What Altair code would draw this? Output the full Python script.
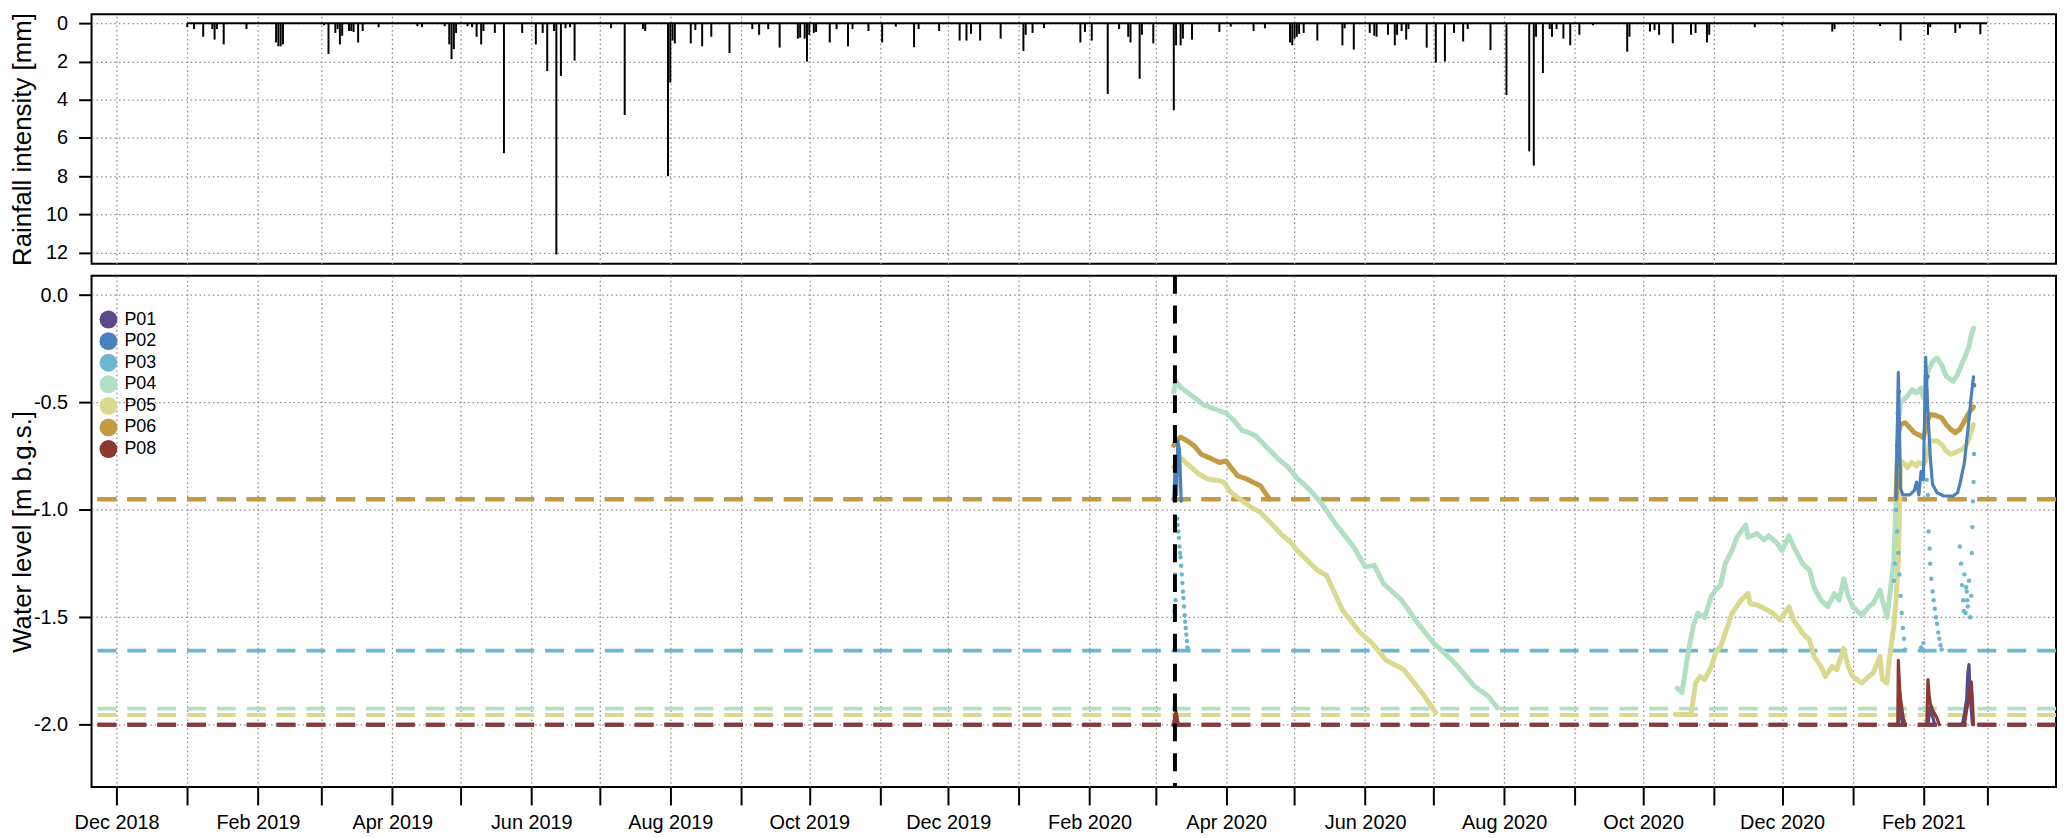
import altair as alt
import pandas as pd

# ---------------- rainfall (date, mm) ----------------
rain_events = [
    ("2019-01-01", 0.2), ("2019-01-04", 0.3), ("2019-01-08", 0.7), ("2019-01-12", 0.3), ("2019-01-13", 0.85),
    ("2019-01-14", 0.3), ("2019-01-17", 1.1), ("2019-01-27", 0.3),
    ("2019-02-09", 1.0), ("2019-02-10", 1.2), ("2019-02-11", 1.2), ("2019-02-12", 1.1),
    ("2019-03-02", 0.1), ("2019-03-04", 1.6), ("2019-03-07", 0.5), ("2019-03-08", 0.3), ("2019-03-09", 1.1),
    ("2019-03-10", 0.65), ("2019-03-13", 0.4), ("2019-03-14", 0.4), ("2019-03-15", 0.45), ("2019-03-17", 1.0),
    ("2019-03-19", 0.4), ("2019-03-26", 0.2),
    ("2019-04-12", 0.15), ("2019-04-14", 0.2), ("2019-04-24", 0.15), ("2019-04-26", 1.1), ("2019-04-27", 1.87),
    ("2019-04-28", 1.35), ("2019-04-29", 0.5),
    ("2019-05-04", 0.15), ("2019-05-06", 0.2), ("2019-05-08", 0.7), ("2019-05-10", 1.1), ("2019-05-11", 0.4),
    ("2019-05-16", 0.5), ("2019-05-20", 6.8), ("2019-05-28", 0.5),
    ("2019-06-03", 1.1), ("2019-06-06", 0.5), ("2019-06-08", 2.5), ("2019-06-11", 0.4), ("2019-06-12", 12.1),
    ("2019-06-14", 2.75), ("2019-06-16", 0.25), ("2019-06-18", 0.2), ("2019-06-20", 1.95),
    ("2019-07-06", 0.25), ("2019-07-12", 4.8), ("2019-07-20", 0.3), ("2019-07-21", 0.4), ("2019-07-31", 8.0),
    ("2019-08-01", 3.1), ("2019-08-02", 0.9), ("2019-08-03", 1.05), ("2019-08-10", 1.05), ("2019-08-12", 0.35),
    ("2019-08-15", 1.2), ("2019-08-19", 0.7), ("2019-08-27", 1.55),
    ("2019-09-06", 0.3), ("2019-09-09", 0.6), ("2019-09-13", 0.3), ("2019-09-18", 1.27), ("2019-09-26", 0.8),
    ("2019-09-27", 0.75), ("2019-09-29", 0.8), ("2019-09-30", 2.0),
    ("2019-10-01", 0.6), ("2019-10-03", 0.5), ("2019-10-04", 0.45), ("2019-10-10", 1.0), ("2019-10-13", 0.3),
    ("2019-10-18", 1.2), ("2019-10-20", 0.3), ("2019-10-27", 0.4),
    ("2019-11-02", 1.0), ("2019-11-08", 0.17), ("2019-11-16", 1.25), ("2019-11-18", 0.3), ("2019-11-27", 0.4),
    ("2019-12-06", 0.9), ("2019-12-09", 0.9), ("2019-12-11", 0.55), ("2019-12-15", 0.9), ("2019-12-24", 0.8),
    ("2020-01-03", 1.45), ("2020-01-04", 0.6), ("2020-01-07", 0.5), ("2020-01-12", 0.25), ("2020-01-28", 1.0),
    ("2020-01-30", 0.45),
    ("2020-02-02", 0.9), ("2020-02-09", 3.7), ("2020-02-14", 0.3), ("2020-02-18", 0.7), ("2020-02-19", 1.0),
    ("2020-02-23", 2.9), ("2020-02-24", 0.6), ("2020-02-29", 1.05),
    ("2020-03-09", 4.55), ("2020-03-10", 1.15), ("2020-03-12", 1.15), ("2020-03-13", 0.8), ("2020-03-17", 0.85),
    ("2020-03-29", 0.45),
    ("2020-04-03", 0.17), ("2020-04-13", 0.4), ("2020-04-18", 0.26), ("2020-04-29", 1.0), ("2020-04-30", 1.15),
    ("2020-05-01", 0.8), ("2020-05-02", 0.7), ("2020-05-03", 0.55), ("2020-05-05", 0.5), ("2020-05-11", 0.9),
    ("2020-05-22", 1.15), ("2020-05-23", 0.26), ("2020-05-27", 1.37),
    ("2020-06-03", 0.5), ("2020-06-05", 0.65), ("2020-06-06", 0.7), ("2020-06-11", 0.6), ("2020-06-14", 1.15),
    ("2020-06-15", 0.6), ("2020-06-17", 0.4), ("2020-06-19", 0.85), ("2020-06-20", 0.3), ("2020-06-28", 1.27),
    ("2020-07-02", 2.05), ("2020-07-06", 2.0), ("2020-07-10", 0.5), ("2020-07-14", 0.95), ("2020-07-16", 0.3),
    ("2020-07-26", 1.4),
    ("2020-08-02", 3.75), ("2020-08-12", 6.7), ("2020-08-14", 7.45), ("2020-08-15", 0.7), ("2020-08-18", 2.6),
    ("2020-08-21", 0.3), ("2020-08-22", 0.7), ("2020-08-24", 0.3), ("2020-08-27", 0.8), ("2020-08-30", 1.15),
    ("2020-09-03", 0.6), ("2020-09-09", 0.1), ("2020-09-24", 1.48), ("2020-09-25", 0.7),
    ("2020-10-04", 0.43), ("2020-10-06", 0.35), ("2020-10-08", 0.6), ("2020-10-14", 1.04), ("2020-10-22", 0.6),
    ("2020-10-24", 0.5), ("2020-10-29", 1.0), ("2020-10-30", 0.6),
    ("2020-11-19", 0.2), ("2020-12-01", 0.1), ("2020-12-23", 0.43), ("2020-12-24", 0.3),
    ("2021-01-13", 0.14), ("2021-01-22", 0.9), ("2021-02-03", 0.6), ("2021-02-04", 0.2), ("2021-02-15", 0.5),
    ("2021-02-17", 0.26), ("2021-02-26", 0.57),
]
rain_record = [("2019-01-01", "2021-03-01")]

# ---------------- piezometers ----------------
series_names = ["P01", "P02", "P03", "P04", "P05", "P06", "P08"]
series_colors = ["#5b4a8b", "#4a80bb", "#6ab7cf", "#b1dfc4", "#d9d98f", "#c29b42", "#8a3a33"]
threshold_levels = [-2.0, -0.95, -1.655, -1.925, -1.955, -0.95, -2.0]
event_dates = ["2020-03-09 12:00"]

p04_a = [("2020-03-09", -0.45), ("2020-03-10", -0.40), ("2020-03-12", -0.43), ("2020-03-16", -0.46),
         ("2020-03-22", -0.51), ("2020-03-27", -0.53), ("2020-04-01", -0.55), ("2020-04-04", -0.58),
         ("2020-04-08", -0.63), ("2020-04-11", -0.64), ("2020-04-14", -0.656), ("2020-04-19", -0.71),
         ("2020-04-24", -0.764), ("2020-04-28", -0.80), ("2020-05-02", -0.85), ("2020-05-08", -0.91),
         ("2020-05-13", -0.972), ("2020-05-19", -1.065), ("2020-05-27", -1.173), ("2020-06-01", -1.265),
         ("2020-06-05", -1.258), ("2020-06-09", -1.343), ("2020-06-17", -1.42), ("2020-06-23", -1.512),
         ("2020-07-01", -1.62), ("2020-07-09", -1.698), ("2020-07-14", -1.759), ("2020-07-19", -1.821),
         ("2020-07-25", -1.867), ("2020-07-29", -1.921)]
p04_b = [("2020-10-16", -1.83), ("2020-10-18", -1.85), ("2020-10-21", -1.65), ("2020-10-23", -1.54),
         ("2020-10-25", -1.48), ("2020-10-28", -1.50), ("2020-10-31", -1.40), ("2020-11-02", -1.37),
         ("2020-11-04", -1.35), ("2020-11-06", -1.25), ("2020-11-09", -1.19), ("2020-11-11", -1.13),
         ("2020-11-15", -1.07), ("2020-11-16", -1.127), ("2020-11-20", -1.11), ("2020-11-23", -1.14),
         ("2020-11-25", -1.12), ("2020-11-29", -1.157), ("2020-12-01", -1.19), ("2020-12-04", -1.12),
         ("2020-12-06", -1.17), ("2020-12-10", -1.25), ("2020-12-13", -1.28), ("2020-12-15", -1.36),
         ("2020-12-18", -1.42), ("2020-12-21", -1.45), ("2020-12-24", -1.39), ("2020-12-26", -1.42),
         ("2020-12-28", -1.32), ("2020-12-30", -1.40), ("2021-01-01", -1.45), ("2021-01-05", -1.49),
         ("2021-01-08", -1.45), ("2021-01-10", -1.435), ("2021-01-13", -1.373), ("2021-01-14", -1.42),
         ("2021-01-16", -1.50), ("2021-01-17", -1.42), ("2021-01-19", -1.235), ("2021-01-20", -0.96),
         ("2021-01-21", -0.60), ("2021-01-22", -0.50), ("2021-01-25", -0.47), ("2021-01-27", -0.44),
         ("2021-01-29", -0.455), ("2021-01-31", -0.432), ("2021-02-01", -0.479), ("2021-02-03", -0.355),
         ("2021-02-05", -0.309), ("2021-02-07", -0.293), ("2021-02-09", -0.324), ("2021-02-11", -0.378),
         ("2021-02-14", -0.401), ("2021-02-16", -0.37), ("2021-02-18", -0.316), ("2021-02-19", -0.293),
         ("2021-02-21", -0.239), ("2021-02-22", -0.185), ("2021-02-23", -0.154)]
p05_a = [("2020-03-09", -0.80), ("2020-03-10", -0.795), ("2020-03-12", -0.756), ("2020-03-15", -0.787),
         ("2020-03-20", -0.833), ("2020-03-24", -0.856), ("2020-03-29", -0.864), ("2020-03-31", -0.872),
         ("2020-04-03", -0.918), ("2020-04-08", -0.957), ("2020-04-12", -0.988), ("2020-04-16", -1.011),
         ("2020-04-21", -1.065), ("2020-04-25", -1.111), ("2020-04-30", -1.158), ("2020-05-02", -1.188),
         ("2020-05-11", -1.281), ("2020-05-15", -1.304), ("2020-05-22", -1.466), ("2020-05-30", -1.574),
         ("2020-06-04", -1.62), ("2020-06-10", -1.698), ("2020-06-18", -1.744), ("2020-06-26", -1.852),
         ("2020-07-02", -1.944)]
p05_b = [("2020-10-15", -1.952), ("2020-10-22", -1.952), ("2020-10-23", -1.883), ("2020-10-24", -1.806),
         ("2020-10-26", -1.775), ("2020-10-28", -1.79), ("2020-10-31", -1.728), ("2020-11-02", -1.659),
         ("2020-11-04", -1.636), ("2020-11-07", -1.543), ("2020-11-09", -1.481), ("2020-11-12", -1.435),
         ("2020-11-13", -1.42), ("2020-11-16", -1.389), ("2020-11-17", -1.435), ("2020-11-20", -1.443),
         ("2020-11-23", -1.458), ("2020-11-27", -1.481), ("2020-11-30", -1.512), ("2020-12-02", -1.481),
         ("2020-12-04", -1.451), ("2020-12-06", -1.512), ("2020-12-10", -1.574), ("2020-12-13", -1.605),
         ("2020-12-15", -1.682), ("2020-12-18", -1.728), ("2020-12-20", -1.775), ("2020-12-23", -1.728),
         ("2020-12-25", -1.744), ("2020-12-28", -1.644), ("2020-12-30", -1.728), ("2021-01-01", -1.775),
         ("2021-01-05", -1.806), ("2021-01-08", -1.775), ("2021-01-10", -1.759), ("2021-01-13", -1.682),
         ("2021-01-14", -1.79), ("2021-01-16", -1.806), ("2021-01-17", -1.698), ("2021-01-19", -1.543),
         ("2021-01-20", -1.42), ("2021-01-21", -1.235), ("2021-01-22", -0.772), ("2021-01-24", -0.787),
         ("2021-01-25", -0.803), ("2021-01-27", -0.779), ("2021-01-29", -0.795), ("2021-01-30", -0.779),
         ("2021-02-01", -0.787), ("2021-02-02", -0.772), ("2021-02-03", -0.718), ("2021-02-04", -0.679),
         ("2021-02-07", -0.679), ("2021-02-09", -0.695), ("2021-02-11", -0.726), ("2021-02-13", -0.741),
         ("2021-02-15", -0.733), ("2021-02-18", -0.718), ("2021-02-20", -0.695), ("2021-02-22", -0.633),
         ("2021-02-23", -0.602)]
p06_a = [("2020-03-09", -0.70), ("2020-03-10", -0.679), ("2020-03-12", -0.661), ("2020-03-15", -0.679),
         ("2020-03-18", -0.702), ("2020-03-21", -0.741), ("2020-03-25", -0.759), ("2020-03-29", -0.779),
         ("2020-04-01", -0.772), ("2020-04-03", -0.802), ("2020-04-06", -0.841), ("2020-04-10", -0.856),
         ("2020-04-13", -0.872), ("2020-04-16", -0.887), ("2020-04-18", -0.918), ("2020-04-20", -0.949)]
p06_b = [("2021-01-20", -0.95), ("2021-01-21", -0.648), ("2021-01-22", -0.602), ("2021-01-24", -0.594),
         ("2021-01-26", -0.617), ("2021-01-28", -0.64), ("2021-01-31", -0.656), ("2021-02-01", -0.664),
         ("2021-02-03", -0.579), ("2021-02-04", -0.556), ("2021-02-06", -0.559), ("2021-02-09", -0.571),
         ("2021-02-11", -0.602), ("2021-02-13", -0.625), ("2021-02-15", -0.64), ("2021-02-17", -0.625),
         ("2021-02-19", -0.587), ("2021-02-21", -0.548), ("2021-02-23", -0.52)]
p02_a = [("2020-03-09 00:00", -0.95), ("2020-03-09 18:00", -0.76), ("2020-03-10 06:00", -0.93),
         ("2020-03-10 18:00", -0.68), ("2020-03-11 12:00", -0.72), ("2020-03-12 06:00", -0.96)]
p02_b = [("2021-01-20", -0.95), ("2021-01-21", -0.36), ("2021-01-22", -0.90), ("2021-01-23", -0.93),
         ("2021-01-26", -0.93), ("2021-01-28", -0.91), ("2021-01-29", -0.87), ("2021-01-30", -0.93),
         ("2021-01-31", -0.82), ("2021-02-01", -0.86), ("2021-02-02", -0.29), ("2021-02-03", -0.55),
         ("2021-02-04", -0.75), ("2021-02-05", -0.88), ("2021-02-07", -0.92), ("2021-02-10", -0.935),
         ("2021-02-14", -0.935), ("2021-02-16", -0.92), ("2021-02-17", -0.88), ("2021-02-18", -0.83),
         ("2021-02-19", -0.78), ("2021-02-20", -0.68), ("2021-02-21", -0.58), ("2021-02-22", -0.47),
         ("2021-02-23", -0.38)]
p08_a = [("2020-03-09 00:00", -2.0), ("2020-03-09 12:00", -1.96), ("2020-03-10 00:00", -1.94),
         ("2020-03-10 12:00", -1.97), ("2020-03-11 00:00", -2.0)]
p08_b = [("2021-01-20 18:00", -2.0), ("2021-01-21 00:00", -1.70), ("2021-01-21 08:00", -1.78),
         ("2021-01-21 16:00", -1.84), ("2021-01-22 00:00", -1.88), ("2021-01-22 12:00", -1.92),
         ("2021-01-23 00:00", -1.96), ("2021-01-24 00:00", -2.0)]
p08_c = [("2021-02-02 12:00", -2.0), ("2021-02-03 00:00", -1.79), ("2021-02-03 12:00", -1.86),
         ("2021-02-04", -1.90), ("2021-02-05", -1.93), ("2021-02-06", -1.95), ("2021-02-07", -1.97),
         ("2021-02-08", -2.0)]
p08_d = [("2021-02-19", -2.0), ("2021-02-20", -1.93), ("2021-02-21", -1.88), ("2021-02-22 00:00", -1.80),
         ("2021-02-22 12:00", -1.88), ("2021-02-23", -2.0)]
p01_a = [("2020-03-09 00:00", -2.0), ("2020-03-09 12:00", -1.95), ("2020-03-10 00:00", -1.97),
         ("2020-03-11 00:00", -2.0)]
p01_b = [("2021-01-21 00:00", -2.0), ("2021-01-21 12:00", -1.88), ("2021-01-22", -1.95), ("2021-01-23", -2.0)]
p01_c = [("2021-02-03", -2.0), ("2021-02-04", -1.92), ("2021-02-05", -1.96), ("2021-02-06", -2.0)]
p01_d = [("2021-02-18", -2.0), ("2021-02-19", -1.95), ("2021-02-20 00:00", -1.88), ("2021-02-20 12:00", -1.76),
         ("2021-02-21 00:00", -1.72), ("2021-02-21 12:00", -1.85), ("2021-02-22 00:00", -1.93),
         ("2021-02-22 12:00", -2.0)]

# scattered readings (dots)
p03_dots = [("2020-03-09 06:00", -1.47), ("2020-03-09 12:00", -1.30), ("2020-03-09 18:00", -1.42),
            ("2020-03-10 12:00", -1.04), ("2020-03-10 18:00", -1.07), ("2020-03-11 00:00", -1.10),
            ("2020-03-11 06:00", -1.13), ("2020-03-11 12:00", -1.17), ("2020-03-11 18:00", -1.20),
            ("2020-03-12 00:00", -1.22), ("2020-03-12 06:00", -1.26), ("2020-03-12 12:00", -1.30),
            ("2020-03-12 18:00", -1.34), ("2020-03-13 00:00", -1.38), ("2020-03-13 06:00", -1.41),
            ("2020-03-13 12:00", -1.45), ("2020-03-13 18:00", -1.49), ("2020-03-14 00:00", -1.52),
            ("2020-03-14 06:00", -1.55), ("2020-03-14 12:00", -1.58), ("2020-03-14 18:00", -1.61),
            ("2020-03-15 00:00", -1.64),
            ("2021-01-19 00:00", -1.33), ("2021-01-19 12:00", -1.25), ("2021-01-20 00:00", -1.00),
            ("2021-01-20 12:00", -1.10), ("2021-01-21 00:00", -1.20), ("2021-01-21 12:00", -1.30),
            ("2021-01-22 00:00", -1.40), ("2021-01-22 12:00", -1.48), ("2021-01-23 00:00", -1.55),
            ("2021-01-23 12:00", -1.60), ("2021-01-24 00:00", -1.65), ("2021-01-31 00:00", -1.64),
            ("2021-02-01 00:00", -1.62),
            ("2021-02-02 12:00", -0.86), ("2021-02-03 00:00", -0.93), ("2021-02-03 06:00", -1.10),
            ("2021-02-03 18:00", -1.18), ("2021-02-04 00:00", -1.25), ("2021-02-04 12:00", -1.32),
            ("2021-02-05 00:00", -1.38), ("2021-02-05 12:00", -1.42), ("2021-02-06 00:00", -1.46),
            ("2021-02-06 12:00", -1.50), ("2021-02-07 00:00", -1.53), ("2021-02-07 12:00", -1.57),
            ("2021-02-08 00:00", -1.60), ("2021-02-08 12:00", -1.63), ("2021-02-09 00:00", -1.65),
            ("2021-02-17 00:00", -1.17), ("2021-02-17 12:00", -1.25), ("2021-02-18 00:00", -1.35),
            ("2021-02-18 12:00", -1.42), ("2021-02-18 18:00", -1.47), ("2021-02-19 00:00", -1.30),
            ("2021-02-19 12:00", -1.48), ("2021-02-19 18:00", -1.36), ("2021-02-20 00:00", -1.38),
            ("2021-02-20 06:00", -1.42), ("2021-02-20 12:00", -1.45), ("2021-02-21 00:00", -1.33),
            ("2021-02-21 12:00", -1.50), ("2021-02-22 00:00", -1.40), ("2021-02-22 06:00", -1.20),
            ("2021-02-22 12:00", -1.08), ("2021-02-22 18:00", -0.96), ("2021-02-23 00:00", -0.87),
            ("2021-02-23 06:00", -0.74)]
p02_dots = [("2021-01-20 12:00", -0.70), ("2021-01-20 18:00", -0.55), ("2021-01-21 06:00", -0.45),
            ("2021-01-21 12:00", -0.60), ("2021-02-02 06:00", -0.45), ("2021-02-02 18:00", -0.38),
            ("2021-02-23 06:00", -0.42)]

segments = [
    ("P01", "a", p01_a), ("P01", "b", p01_b), ("P01", "c", p01_c), ("P01", "d", p01_d),
    ("P02", "a", p02_a), ("P02", "b", p02_b),
    ("P04", "a", p04_a), ("P04", "b", p04_b),
    ("P05", "a", p05_a), ("P05", "b", p05_b),
    ("P06", "a", p06_a), ("P06", "b", p06_b),
    ("P08", "a", p08_a), ("P08", "b", p08_b), ("P08", "c", p08_c), ("P08", "d", p08_d),
]
thick_series = ["P04", "P05", "P06"]


def to_dt(values):
    return pd.to_datetime(pd.Series(values), format="mixed")


# ---------------- build tables ----------------
rain_df = pd.DataFrame({"date": to_dt([d for d, _ in rain_events]),
                        "mm": [v for _, v in rain_events]})
rain_df["zero"] = 0.0
base_df = pd.DataFrame({"date": to_dt([a for a, _ in rain_record]),
                        "end": to_dt([b for _, b in rain_record]), "mm": [0.0]})

rows = []
for name, seg, pts in segments:
    for d, v in pts:
        rows.append({"name": name, "seg": name + seg, "date": d, "level": v,
                     "kind": "thick" if name in thick_series else "thin"})
lines_df = pd.DataFrame(rows)
lines_df["date"] = to_dt(lines_df["date"].tolist())

dot_rows = [{"name": "P03", "date": d, "level": v} for d, v in p03_dots] + \
           [{"name": "P02", "date": d, "level": v} for d, v in p02_dots]
dots_df = pd.DataFrame(dot_rows)
dots_df["date"] = to_dt(dots_df["date"].tolist())

thr_df = pd.DataFrame({"name": series_names, "level": threshold_levels})
event_df = pd.DataFrame({"date": to_dt(event_dates)})
legend_df = pd.DataFrame({"name": series_names})

# ---------------- styling ----------------
FONT = "Liberation Sans"
GRID = dict(grid=True, gridDash=[1.5, 3], gridColor="#8a8a8a", gridWidth=1.3)
PLOT_W = 1975
TITLE_SIZE = 26
TITLE_X = -61

x_scale = alt.Scale(domain=[alt.DateTime(year=2018, month=11, date=20),
                            alt.DateTime(year=2021, month=3, date=31, hours=5)])
month_ticks = {"interval": "month", "step": 1}

x_top_axis = alt.Axis(tickCount=month_ticks, labels=False, ticks=False, domain=False, title=None, **GRID)
x_bottom_axis = alt.Axis(tickCount=month_ticks,
                         labelExpr="month(datum.value) % 2 == 1 ? timeFormat(datum.value, '%b %Y') : ''",
                         labelOverlap=False, labelFlush=False, labelFontSize=20, tickSize=18, tickWidth=2,
                         tickColor="black", labelPadding=8, domain=False, title=None, **GRID)

cscale = alt.Scale(domain=series_names, range=series_colors)

# ---------------- top panel: rainfall ----------------
y_rain_scale = alt.Scale(domain=[-0.48, 12.59], reverse=True, nice=False, zero=False)
y_rain_axis = alt.Axis(values=[0, 2, 4, 6, 8, 10, 12], labelFontSize=20, tickSize=13, tickWidth=2,
                       tickColor="black", labelPadding=11, domain=False,
                       title="Rainfall intensity [mm]", titleFontSize=TITLE_SIZE, titleFontWeight="normal",
                       titleX=TITLE_X, titleBaseline="alphabetic", titleAngle=270, **GRID)

x_top = alt.X("date:T", scale=x_scale, axis=x_top_axis)
y_top = alt.Y("mm:Q", scale=y_rain_scale, axis=y_rain_axis)

rain_base = alt.Chart(base_df).mark_rule(color="black", strokeWidth=2).encode(
    x=x_top, x2="end:T", y=y_top,
)
rain_bars = alt.Chart(rain_df).mark_rule(color="#000000", strokeWidth=2).encode(
    x=x_top, y=y_top, y2="zero:Q",
)
top = alt.layer(rain_base, rain_bars).properties(width=PLOT_W, height=251)

# ---------------- bottom panel: water level ----------------
y_wl_scale = alt.Scale(domain=[-2.29, 0.09], nice=False, zero=False)
y_wl_axis = alt.Axis(values=[-2.0, -1.5, -1.0, -0.5, 0.0],
                     labelExpr="(datum.value < 0 ? '-' : '') + format(abs(datum.value), '.1f')",
                     labelFontSize=20, tickSize=13, tickWidth=2, tickColor="black", labelPadding=11,
                     domain=False, title="Water level [m b.g.s.]", titleFontSize=TITLE_SIZE,
                     titleFontWeight="normal", titleX=TITLE_X, titleBaseline="alphabetic", titleAngle=270,
                     **GRID)

y_wl = alt.Y("level:Q", scale=y_wl_scale, axis=y_wl_axis)
x_wl = alt.X("date:T", scale=x_scale, axis=x_bottom_axis)
col_plain = alt.Color("name:N", scale=cscale, legend=None)

thresholds = alt.Chart(thr_df).mark_rule(strokeWidth=4, strokeDash=[19, 11]).encode(
    y=y_wl, color=col_plain,
)
thin_lines = alt.Chart(lines_df).transform_filter(alt.datum.kind == "thin").mark_line(
    strokeWidth=3.2, strokeJoin="round", strokeCap="round").encode(
    x=x_wl, y=y_wl, detail="seg:N", color=col_plain,
)
thick_lines = alt.Chart(lines_df).transform_filter(alt.datum.kind == "thick").mark_line(
    strokeWidth=5, strokeJoin="round", strokeCap="round").encode(
    x=x_wl, y=y_wl, detail="seg:N", color=col_plain,
)
dots = alt.Chart(dots_df).mark_circle(size=20, opacity=1).encode(
    x=x_wl, y=y_wl, color=col_plain,
)
event_line = alt.Chart(event_df).mark_rule(color="black", strokeWidth=4, strokeDash=[18, 12]).encode(
    x=x_wl,
)
# legend carrier: an invisible point layer with its own colour scale that owns the legend
legend_layer = alt.Chart(legend_df).mark_circle(size=324, opacity=0).encode(
    color=alt.Color("name:N", scale=alt.Scale(domain=series_names, range=series_colors),
                    legend=alt.Legend(orient="none", legendX=8, legendY=35, title=None,
                                      symbolType="circle", symbolSize=324, symbolStrokeWidth=0,
                                      symbolOpacity=1, labelFontSize=18, labelFont=FONT,
                                      labelColor="black", labelOffset=7, rowPadding=3.7, padding=0)),
)
bottom = alt.layer(thresholds, thick_lines, thin_lines, dots, event_line, legend_layer).resolve_scale(
    color="independent"
).properties(width=PLOT_W, height=514)

chart = alt.vconcat(top, bottom, spacing=12, bounds="flush").properties(
    padding={"left": 0, "top": 1, "right": 0, "bottom": 0}
).configure_view(
    stroke="black", strokeWidth=2
).configure_axis(
    labelFont=FONT, titleFont=FONT, labelColor="black", titleColor="black"
)

chart.save("out.html", embed_options={"renderer": "svg", "actions": False})
